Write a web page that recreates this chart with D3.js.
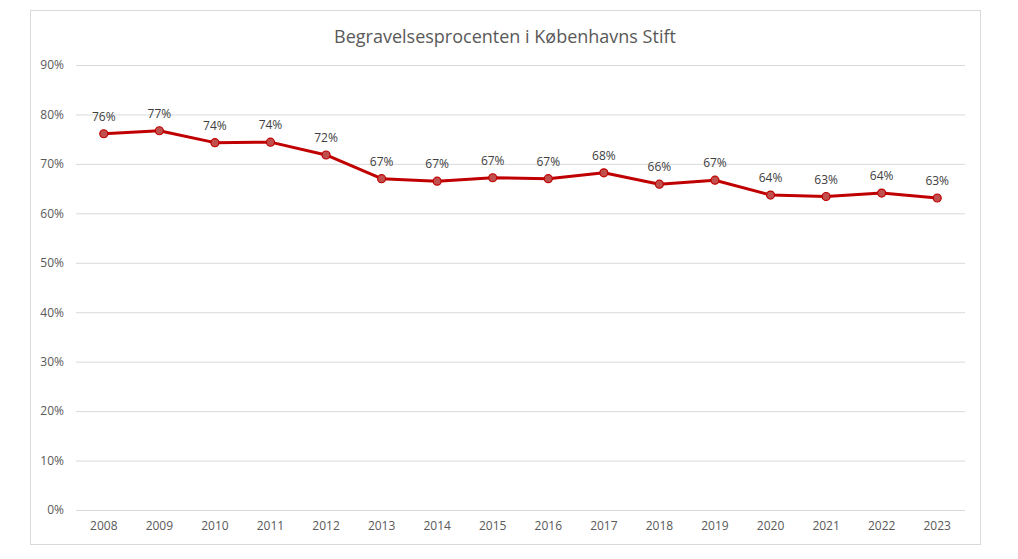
<!DOCTYPE html>
<html><head><meta charset="utf-8">
<script src="https://cdn.jsdelivr.net/npm/d3@7"></script>
<style>body{margin:0;background:#fff;} text{font-family:"Open Sans","Noto Sans",sans-serif;}</style>
</head><body><svg id="c" width="1018" height="559"></svg>
<script>
const years = ["2008","2009","2010","2011","2012","2013","2014","2015","2016","2017","2018","2019","2020","2021","2022","2023"];
const values = [76.1,76.7,74.3,74.4,71.8,67.0,66.5,67.2,67.0,68.2,65.9,66.7,63.7,63.4,64.1,63.1];
const yTicks = [0,10,20,30,40,50,60,70,80,90];
const title = "Begravelsesprocenten i Københavns Stift";

const svg = d3.select("#c");
svg.append("rect").attr("x",30.5).attr("y",10.5).attr("width",950).attr("height",534)
  .attr("fill","#fff").attr("stroke","#d9d9d9").attr("stroke-width",1);

const m = {l:76,r:965,t:65,b:510};
const x = d3.scaleBand().domain(years).range([m.l,m.r]);
const y = d3.scaleLinear().domain([0,90]).range([m.b,m.t]);

svg.append("text").attr("x",505).attr("y",43).attr("text-anchor","middle")
  .attr("font-size",18).attr("fill","#595959").text(title);

const ga = svg.append("g").attr("transform",`translate(${m.l},0)`)
  .call(d3.axisLeft(y).tickValues(yTicks).tickSize(-(m.r-m.l)).tickPadding(12).tickFormat(d=>d+"%"));
ga.select(".domain").remove();
ga.selectAll(".tick line").attr("stroke","#d9d9d9").attr("stroke-width",1);
ga.selectAll(".tick text").attr("fill","#595959").attr("font-size",12).attr("font-family","Open Sans");

const gx = svg.append("g").attr("transform",`translate(0,${m.b})`)
  .call(d3.axisBottom(x).tickSize(0).tickPadding(11));
gx.select(".domain").remove();
gx.selectAll(".tick text").attr("fill","#595959").attr("font-size",12).attr("font-family","Open Sans");

const line = d3.line().x((d,i)=>x(years[i])+x.bandwidth()/2).y(d=>y(d));
svg.append("path").datum(values).attr("d",line).attr("fill","none")
  .attr("stroke","#c00000").attr("stroke-width",3).attr("stroke-linejoin","round");

svg.selectAll("circle.pt").data(values).join("circle")
  .attr("cx",(d,i)=>x(years[i])+x.bandwidth()/2).attr("cy",d=>y(d)).attr("r",4)
  .attr("fill","#c0504d").attr("stroke","#c00000").attr("stroke-width",1.2);

svg.selectAll("text.lbl").data(values).join("text")
  .attr("x",(d,i)=>x(years[i])+x.bandwidth()/2).attr("y",d=>y(d)-13)
  .attr("text-anchor","middle").attr("font-size",12).attr("fill","#404040")
  .text(d=>Math.round(d)+"%");
</script></body></html>
